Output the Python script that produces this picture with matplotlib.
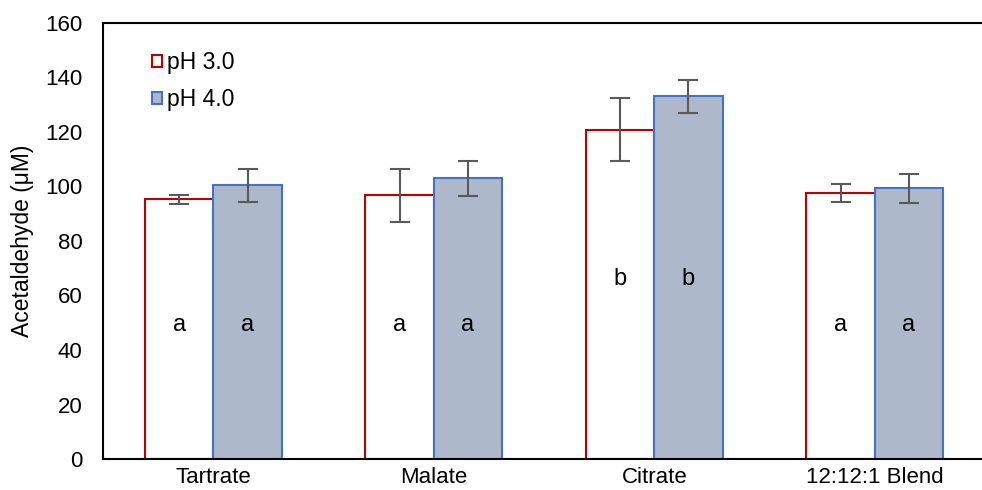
import numpy as np
import matplotlib.pyplot as plt

plt.rcParams['font.family'] = ['Liberation Sans', 'DejaVu Sans']

categories = ["Tartrate", "Malate", "Citrate", "12:12:1 Blend"]
ph3_values = [95.2, 96.7, 120.8, 97.4]
ph3_errors = [1.6, 9.8, 11.6, 3.3]
ph4_values = [100.3, 102.9, 132.9, 99.2]
ph4_errors = [6.2, 6.4, 6.0, 5.3]
ph3_letters = ["a", "a", "b", "a"]
ph4_letters = ["a", "a", "b", "a"]
letter_y = [49, 49, 66, 49]

fig = plt.figure(figsize=(9.82, 4.9), dpi=100)
ax = fig.add_axes([0.105, 0.063, 0.898, 0.891])

x = np.arange(len(categories))
width = 0.31
err_kw = dict(ecolor="#595959", elinewidth=1.5, capsize=7, capthick=1.5)

ax.bar(x - width / 2, ph3_values, width, yerr=ph3_errors, color="white",
       edgecolor="#C00000", linewidth=1.5, label="pH 3.0", error_kw=err_kw, zorder=2)
ax.bar(x + width / 2, ph4_values, width, yerr=ph4_errors, color="#ADB9CA",
       edgecolor="#4472C4", linewidth=1.5, label="pH 4.0", error_kw=err_kw, zorder=2)

for i in range(len(categories)):
    ax.text(x[i] - width / 2, letter_y[i], ph3_letters[i], ha="center", va="center", fontsize=17)
    ax.text(x[i] + width / 2, letter_y[i], ph4_letters[i], ha="center", va="center", fontsize=17)

ax.set_xlim(-0.5, len(categories) - 0.5)
ax.set_ylim(0, 160)
ax.set_yticks(np.arange(0, 161, 20))
ax.set_xticks(x)
ax.set_xticklabels(categories, fontsize=16)
ax.tick_params(axis="y", labelsize=16, length=0, pad=15)
ax.tick_params(axis="x", length=0, pad=6)
ax.set_ylabel("Acetaldehyde (μM)", fontsize=16.5, labelpad=8)

for s in ax.spines.values():
    s.set_linewidth(1.5)
    s.set_color("black")
ax.spines["bottom"].set_zorder(3)

ax.legend(loc="upper left", bbox_to_anchor=(0.045, 0.955), frameon=False, fontsize=16.5,
          handlelength=0.45, handleheight=0.45, handletextpad=0.2, labelspacing=0.6,
          borderaxespad=0)

fig.savefig("out.png", dpi=100)
